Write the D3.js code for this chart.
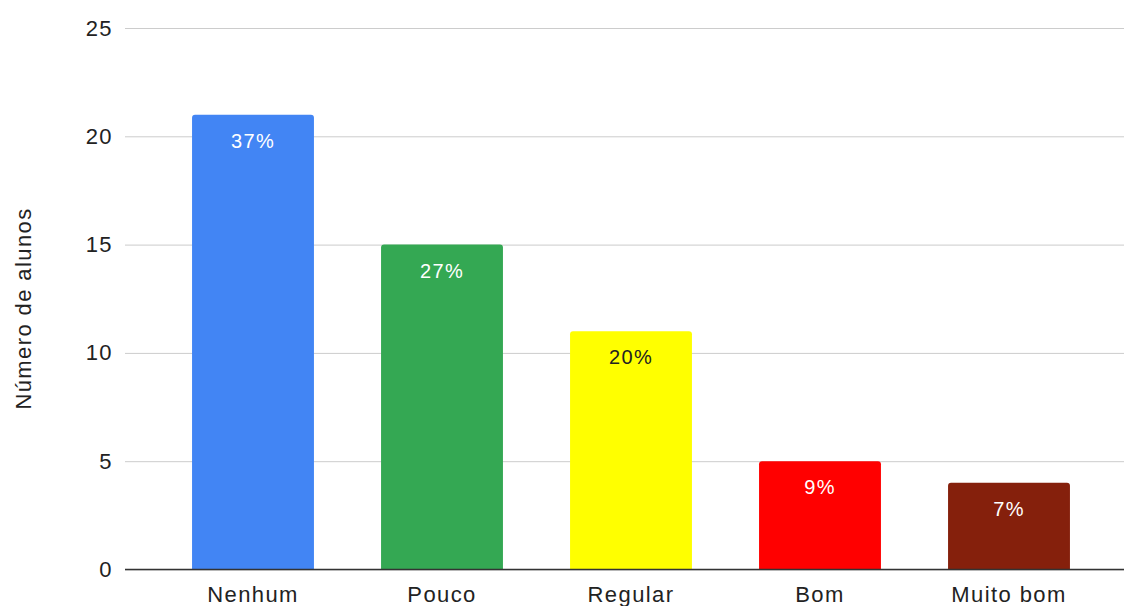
<!DOCTYPE html>
<html>
<head>
<meta charset="utf-8">
<script src="https://cdn.jsdelivr.net/npm/d3@7"></script>
<style>
  body { margin: 0; background: #fff; }
  svg text { font-family: "Liberation Sans", Arial, sans-serif; letter-spacing: 1.4px; }
</style>
</head>
<body>
<div id="vizContainer"></div>
<script>
// chart data
var categories = ['Nenhum', 'Pouco', 'Regular', 'Bom', 'Muito bom'];
var values = [21, 15, 11, 5, 4];
var percentLabels = ['37%', '27%', '20%', '9%', '7%'];
var barColors = ['#4285f4', '#34a853', '#ffff00', '#ff0000', '#85200c'];
var labelColors = ['#ffffff', '#ffffff', '#222222', '#ffffff', '#ffffff'];
var yTicks = [0, 5, 10, 15, 20, 25];

var width = 1124, height = 606;
var plotLeft = 125, plotRight = 1124, plotTop = 28, plotBottom = 569.5;

var svg = d3.select('#vizContainer').append('svg')
    .attr('width', width)
    .attr('height', height)
    .attr('viewBox', '0 0 ' + width + ' ' + height);

var y = d3.scaleLinear().domain([0, 25]).range([plotBottom, plotTop]);
var x = d3.scaleBand().domain(categories)
    .range([158.5, 1103.5])
    .paddingInner(0.355)
    .paddingOuter(0.1775);

// gridlines + tick labels
var yAxis = d3.axisLeft(y).tickValues(yTicks).tickSize(-(plotRight - plotLeft)).tickPadding(12);
var gy = svg.append('g').attr('transform', 'translate(' + plotLeft + ',0)').call(yAxis);
gy.select('.domain').remove();
gy.selectAll('.tick line').attr('stroke', '#cccccc').attr('stroke-width', 1);
gy.selectAll('.tick text').attr('fill', '#222').style('font-size', '22px');

// bars (rounded top corners)
function barPath(d, i) {
    var x0 = x(categories[i]), w = x.bandwidth();
    var y0 = y(d), y1 = y(0), r = 3;
    return 'M' + x0 + ',' + y1 +
        'V' + (y0 + r) + 'Q' + x0 + ',' + y0 + ' ' + (x0 + r) + ',' + y0 +
        'H' + (x0 + w - r) + 'Q' + (x0 + w) + ',' + y0 + ' ' + (x0 + w) + ',' + (y0 + r) +
        'V' + y1 + 'Z';
}
svg.append('g').selectAll('path').data(values).enter().append('path')
    .attr('d', barPath)
    .attr('fill', function(d, i) { return barColors[i]; });

// percent labels
svg.append('g').selectAll('text').data(values).enter().append('text')
    .attr('x', function(d, i) { return x(categories[i]) + x.bandwidth() / 2; })
    .attr('y', function(d) { return y(d) + 33; })
    .attr('text-anchor', 'middle')
    .attr('fill', function(d, i) { return labelColors[i]; })
    .style('font-size', '20px')
    .text(function(d, i) { return percentLabels[i]; });

// baseline
svg.append('line')
    .attr('x1', plotLeft).attr('x2', plotRight)
    .attr('y1', y(0)).attr('y2', y(0))
    .attr('stroke', '#333').attr('stroke-width', 1.5);

// x axis labels
var xAxis = d3.axisBottom(x).tickSize(0).tickPadding(17);
var gx = svg.append('g').attr('transform', 'translate(0,' + y(0) + ')').call(xAxis);
gx.select('.domain').remove();
gx.selectAll('.tick text').attr('fill', '#222').style('font-size', '22px');

// y axis title
svg.append('text')
    .attr('transform', 'translate(31,308.5) rotate(-90)')
    .attr('text-anchor', 'middle')
    .attr('fill', '#222')
    .style('font-size', '22px')
    .text('Número de alunos');
</script>
</body>
</html>
